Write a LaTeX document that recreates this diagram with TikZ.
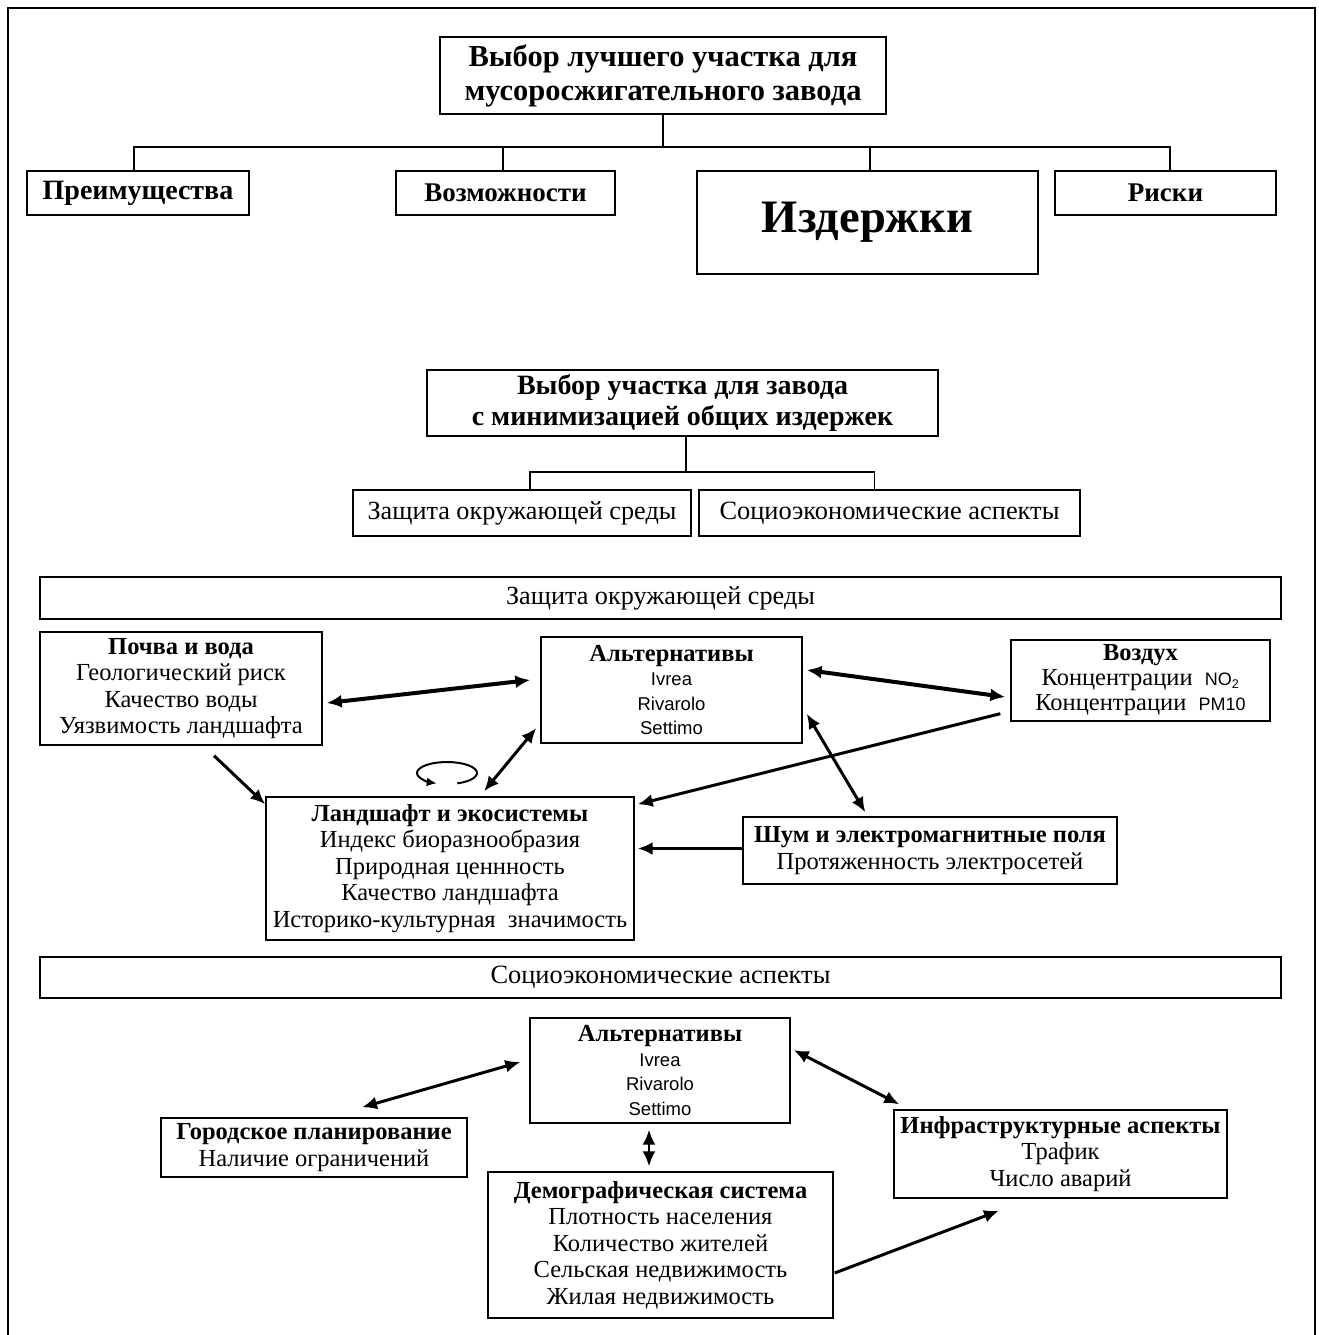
\documentclass[tikz,border=0pt]{standalone}
\usepackage{fontspec}
\setmainfont{Liberation Serif}
\newfontfamily\arialfont{Liberation Sans}
\newcommand{\altsite}{\arialfont\fontsize{18.5}{24.5}\selectfont}
\newcommand{\chemfont}{\arialfont\fontsize{18}{20}\selectfont}
\usetikzlibrary{arrows.meta,calc}

\begin{document}
\begin{tikzpicture}[x=1pt,y=-1pt,
  box/.style={draw, line width=1.4pt, align=center, inner sep=0pt},
  txt/.style={font=\fontsize{24.5}{26.5}\selectfont},
  link/.style={line width=3pt, {Latex[length=15pt,width=13pt]}-{Latex[length=15pt,width=13pt]}},
  thicklink/.style={link, line width=4pt},
  oneway/.style={line width=3pt, -{Latex[length=15pt,width=13pt]}},
  tree/.style={line width=1.4pt}]
\useasboundingbox (0,0) rectangle (1318,1335);
\draw[line width=1.5pt] (8,1340) -- (8,8) -- (1315,8) -- (1315,1340);

% top level
\node[box, minimum width=446, minimum height=77, font=\fontsize{30.5}{34}\selectfont\bfseries] (goal) at (663,75.5)
  {Выбор лучшего участка для\\мусоросжигательного завода};
\node[box, minimum width=222, minimum height=44, font=\fontsize{28}{30}\selectfont\bfseries] (pros) at (138,193) {Преимущества};
\node[box, minimum width=219, minimum height=44, font=\fontsize{27}{30}\selectfont\bfseries] (opps) at (505.5,193) {Возможности};
\node[box, minimum width=341, minimum height=103, font=\fontsize{46.5}{50}\selectfont\bfseries] (costs) at (867.5,222.5) {Издержки};
\node[box, minimum width=221, minimum height=44, font=\fontsize{27}{30}\selectfont\bfseries] (risks) at (1165.5,193) {Риски};

\coordinate (bus) at (663,147);
\draw[tree] (goal.south) -- (bus);
\draw[tree] ($(pros.north)+(-4,0)$) |- (bus) -| ($(risks.north)+(4.5,0)$);
\draw[tree] ($(opps.north)+(-2.5,0)$) |- (bus);
\draw[tree] ($(costs.north)+(2.5,0)$) |- (bus);

% second level
\node[box, minimum width=511, minimum height=66, font=\fontsize{28}{31}\selectfont\bfseries] (select) at (682.5,403)
  {Выбор участка для завода\\с минимизацией общих издержек};
\node[box, minimum width=338, minimum height=46, font=\fontsize{26.2}{28}\selectfont] (envsum) at (522,513) {Защита окружающей среды};
\node[box, minimum width=381, minimum height=46, font=\fontsize{26.4}{28}\selectfont] (socsum) at (889.5,513) {Социоэкономические аспекты};

\coordinate (bus2) at (686,472);
\draw[tree] (select.south -| bus2) -- (bus2);
\draw[tree] ($(envsum.north)+(8,0)$) |- (bus2) -| ($(socsum.north)+(-15,0)$);

% environment
\node[box, minimum width=1241, minimum height=42, font=\fontsize{26.2}{28}\selectfont] (envbar) at (660.5,598) {Защита окружающей среды};

\node[box, txt, minimum width=282, minimum height=113] (soil) at (181,688.5)
  {\textbf{Почва и вода}\\Геологический риск\\Качество воды\\Уязвимость ландшафта};
\node[box, minimum width=261, minimum height=106, font=\fontsize{24.5}{24.5}\selectfont] (altA) at (671.5,690)
  {\textbf{Альтернативы}\\{\altsite Ivrea}\\{\altsite Rivarolo}\\{\altsite Settimo}};
\node[box, minimum width=259, minimum height=81, font=\fontsize{24.5}{25}\selectfont] (air) at (1140.5,680.5)
  {\textbf{Воздух}\\Концентрации~ {\chemfont NO\textsubscript{2}}\\Концентрации~ {\chemfont PM10}};
\node[box, txt, minimum width=368, minimum height=143] (land) at (450,868.5)
  {\textbf{Ландшафт и экосистемы}\\Индекс биоразнообразия\\Природная ценнность\\Качество ландшафта\\Историко-культурная~ значимость};
\node[box, txt, minimum width=374, minimum height=67] (noise) at (930,850.5)
  {\textbf{Шум и электромагнитные поля}\\Протяженность электросетей};

\draw[thicklink] ($(soil.east)+(4,14.5)$) -- ($(altA.west)+(-10,-10)$);
\draw[thicklink] ($(altA.east)+(4,-20)$) -- ($(air.west)+(-5,16.5)$);
\draw[oneway] ($(soil.south)+(33,10)$) -- ($(land.north west)+(0,8)$);
\draw[link] ($(altA.west)+(-4,38)$) -- ($(land.north)+(34,-5)$);
\draw[oneway] ($(air.south west)+(-10,-8)$) -- ($(land.north east)+(3,8)$);
\draw[link] ($(altA.south east)+(4,-30)$) -- ($(noise.north west)+(123,-4)$);
\draw[oneway] ($(noise.west)+(0,-2)$) -- ($(land.east)+(3,-20)$);
\coordinate (loop) at (447,773);
\draw[line width=2pt, -{Latex[length=10pt,width=9pt]}] ($(loop)+({30*cos(70)},{11*sin(70)})$)
  arc[start angle=70, end angle=-250, x radius=30, y radius=11];

% socio-economic
\node[box, minimum width=1241, minimum height=41, font=\fontsize{26.4}{28}\selectfont] (socbar) at (660.5,977.5) {Социоэкономические аспекты};

\node[box, minimum width=260, minimum height=105, font=\fontsize{24.5}{24.5}\selectfont] (altB) at (660,1070.5)
  {\textbf{Альтернативы}\\{\altsite Ivrea}\\{\altsite Rivarolo}\\{\altsite Settimo}};
\node[box, txt, minimum width=306, minimum height=59] (town) at (314,1147.5)
  {\textbf{Городское планирование}\\Наличие ограничений};
\node[box, txt, minimum width=345, minimum height=146] (demo) at (660.5,1245)
  {\textbf{Демографическая система}\\Плотность населения\\Количество жителей\\Сельская недвижимость\\Жилая недвижимость};
\node[box, txt, minimum width=333, minimum height=88] (infra) at (1060.5,1154)
  {\textbf{Инфраструктурные аспекты}\\Трафик\\Число аварий};

\draw[link] ($(altB.west)+(-9,-8.5)$) -- ($(town.north)+(48,-10)$);
\draw[link] ($(altB.east)+(3,-20.5)$) -- ($(infra.north west)+(6,-5)$);
\draw[link, line width=2.4pt] ($(altB.south)+(-11,6)$) -- ($(demo.north)+(-11.5,-5)$);
\draw[oneway] ($(demo.east)+(1,28)$) -- ($(infra.south)+(-61.5,12)$);
\end{tikzpicture}
\end{document}
